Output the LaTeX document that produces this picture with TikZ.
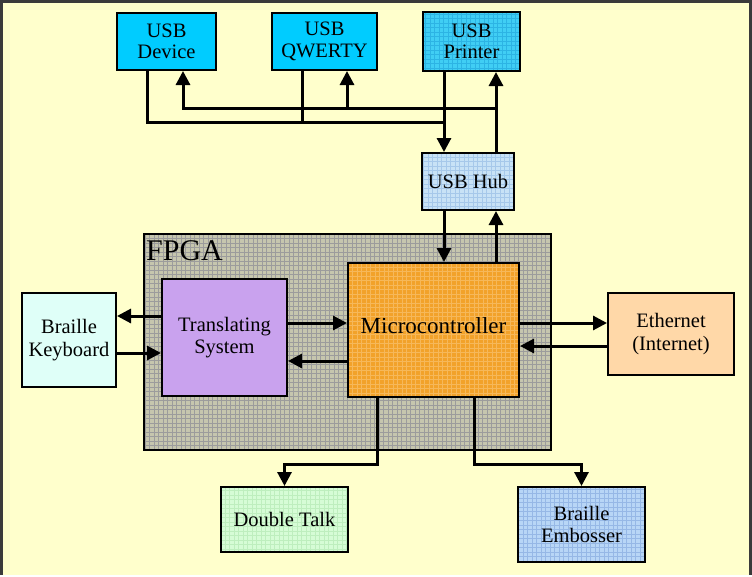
\documentclass[tikz,border=0pt]{standalone}
\usepackage{fontspec}
\setmainfont{Liberation Serif}
\usetikzlibrary{arrows.meta}
\definecolor{bgyel}{HTML}{FFFFCC}
\definecolor{cyanbox}{HTML}{00CCFF}
\definecolor{prfill}{HTML}{40CEF4}
\definecolor{prgrid}{HTML}{2CB4E4}
\definecolor{hubfill}{HTML}{C8E2F6}
\definecolor{hubgrid}{HTML}{A6C8EA}
\definecolor{fpgafill}{HTML}{C6C6AE}
\definecolor{fpgagrid}{HTML}{9C9C9C}
\definecolor{mcfill}{HTML}{F2A22A}
\definecolor{mcgrid}{HTML}{F6B85A}
\definecolor{tsfill}{HTML}{C9A2EE}
\definecolor{bkfill}{HTML}{DFFFF8}
\definecolor{ethfill}{HTML}{FFD8A8}
\definecolor{dtfill}{HTML}{D6FCD6}
\definecolor{dtgrid}{HTML}{BEEEBE}
\definecolor{embfill}{HTML}{B8D6F6}
\definecolor{embgrid}{HTML}{96B8E6}
\definecolor{framecol}{HTML}{3A3A3A}
\tikzset{
  box/.style={draw=black, line width=2pt, inner sep=0pt, align=center,
    font=\fontsize{20.5}{22.5}\selectfont},
  gridfill/.style={path picture={\draw[#1, line width=0.35pt, step=4.5pt]
    (path picture bounding box.south west) grid (path picture bounding box.north east);}},
  conn/.style={line width=3pt, line cap=rect},
  arr/.style={line width=3pt, -{Triangle[length=14pt,width=14pt]}},
}
\begin{document}
\begin{tikzpicture}[x=1pt,y=-1pt]
\useasboundingbox (0,0) rectangle (752,576);
\fill[white] (0,0) rectangle (752,576);
\fill[bgyel] (0,0) rectangle (752,575);
\fill[framecol] (0,0) rectangle (752,3);
\fill[framecol] (0,0) rectangle (2.5,575);
\fill[framecol] (748.5,0) rectangle (752,575);

% FPGA container
\node[box, fill=fpgafill, gridfill=fpgagrid, minimum width=407pt, minimum height=216pt] (fpga) at (347.5,342) {};
\node[anchor=north west, inner sep=0pt, font=\fontsize{30}{32}\selectfont] (fpgalbl) at (146,240) {FPGA};

% boxes
\node[box, fill=cyanbox, minimum width=99pt, minimum height=57pt] (dev) at (166.5,41.5) {USB\\[-1pt]Device};
\node[box, fill=cyanbox, minimum width=105pt, minimum height=57pt] (qw) at (324.5,41.5) {USB\\[-1pt]QWERTY};
\node[box, fill=prfill, gridfill=prgrid, minimum width=97pt, minimum height=59pt] (pr) at (471.5,41.5) {USB\\[-1pt]Printer};
\node[box, fill=hubfill, gridfill=hubgrid, minimum width=92pt, minimum height=57pt] (hub) at (468,181.5) {USB Hub};
\node[box, fill=mcfill, gridfill=mcgrid, minimum width=171pt, minimum height=134pt] (mc) at (433.5,330) {};
\node[font=\fontsize{23}{26}\selectfont, inner sep=0pt] (mclbl) at (433.5,326) {Microcontroller};
\node[box, fill=tsfill, minimum width=125pt, minimum height=117pt] (ts) at (224.5,337.5) {Translating\\System};
\node[box, fill=bkfill, minimum width=94pt, minimum height=94pt] (bk) at (69,340) {Braille\\Keyboard};
\node[box, fill=ethfill, minimum width=126pt, minimum height=82pt] (eth) at (671,334) {Ethernet\\(Internet)};
\node[box, fill=dtfill, gridfill=dtgrid, minimum width=127pt, minimum height=65pt] (dt) at (284.5,519.5) {Double Talk};
\node[box, fill=embfill, gridfill=embgrid, minimum width=127pt, minimum height=75pt] (emb) at (581.5,524.5) {Braille\\Embosser};

% helper coordinates
\coordinate (x147) at (147,0);
\coordinate (x183) at (183,0);
\coordinate (x302) at (302,0);
\coordinate (x347) at (347,0);
\coordinate (x444) at (444,0);
\coordinate (x496) at (496,0);
\coordinate (x377) at (377,0);
\coordinate (x474) at (474,0);
\coordinate (y108) at (0,108);
\coordinate (y122) at (0,122);
\coordinate (y316) at (0,316);
\coordinate (y353) at (0,353);
\coordinate (y323) at (0,323);
\coordinate (y361) at (0,361);
\coordinate (y346) at (0,346);
\coordinate (y464) at (0,464);

% USB devices down to hub
\draw[conn] (dev.south -| x147) |- (x444 |- y122);
\draw[conn] (qw.south -| x302) -- (x302 |- y122);
\draw[arr] (pr.south -| x444) -- (hub.north -| x444);
% hub up to USB devices
\draw[arr] (hub.north -| x496) -- (pr.south -| x496);
\draw[arr] (x496 |- y108) -| (dev.south -| x183);
\draw[arr] (x347 |- y108) -- (qw.south -| x347);
% hub <-> microcontroller
\draw[arr] (hub.south -| x444) -- (mc.north -| x444);
\draw[arr] (mc.north -| x496) -- (hub.south -| x496);
% keyboard <-> translating
\draw[arr] (ts.west |- y316) -- (bk.east |- y316);
\draw[arr] (bk.east |- y353) -- (ts.west |- y353);
% translating <-> micro
\draw[arr] (ts.east |- y323) -- (mc.west |- y323);
\draw[arr] (mc.west |- y361) -- (ts.east |- y361);
% micro <-> ethernet
\draw[arr] (mc.east |- y323) -- (eth.west |- y323);
\draw[arr] (eth.west |- y346) -- (mc.east |- y346);
% micro to outputs
\draw[arr] (mc.south -| x377) -- (x377 |- y464) -| (dt.north);
\draw[arr] (mc.south -| x474) -- (x474 |- y464) -| (emb.north);
\end{tikzpicture}
\end{document}
